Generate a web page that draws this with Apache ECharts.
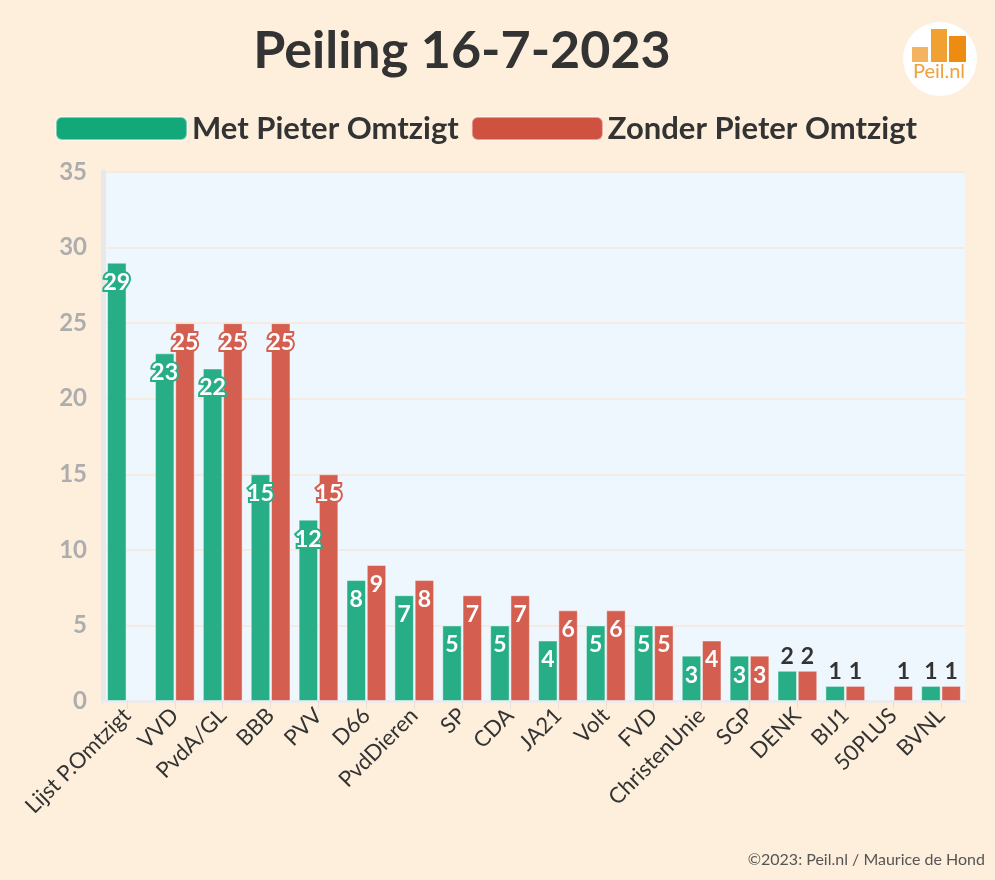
<!DOCTYPE html>
<html>
<head>
<meta charset="utf-8">
<script src="https://cdn.jsdelivr.net/npm/echarts@6/dist/echarts.min.js"></script>
<style>
  html, body { margin: 0; padding: 0; background: #fdefdc; }
  #chart { width: 995px; height: 880px; }
</style>
</head>
<body>
<div id="chart"></div>
<script>
// partijen
var categories = ['Lijst P.Omtzigt', 'VVD', 'PvdA/GL', 'BBB', 'PVV', 'D66', 'PvdDieren', 'SP', 'CDA',
    'JA21', 'Volt', 'FVD', 'ChristenUnie', 'SGP', 'DENK', 'BIJ1', '50PLUS', 'BVNL'];
// zetels met / zonder Omtzigt
var metOmtzigt = [29, 23, 22, 15, 12, 8, 7, 5, 5, 4, 5, 5, 3, 3, 2, 1, null, 1];
var zonderOmtzigt = [null, 25, 25, 25, 15, 9, 8, 7, 7, 6, 6, 5, 4, 3, 2, 1, 1, 1];
var yTicks = [0, 5, 10, 15, 20, 25, 30, 35];

var FONT = 'Lato';
var GREEN = '#27ae86', RED = '#d45f50';

// small values get their label above the bar, in dark text
function buildData(values) {
    return values.map(function (v) {
        if (v === null) return null;
        if (v <= 2) {
            return { value: v, label: { position: 'top', distance: 3, color: '#333', textBorderWidth: 0 } };
        }
        return { value: v };
    });
}

function barSeries(name, values, color) {
    return {
        name: name,
        type: 'bar',
        barGap: '4%',
        barCategoryGap: '17%',
        data: buildData(values),
        itemStyle: { color: color, borderColor: 'rgba(255,255,255,0.45)', borderWidth: 1 },
        label: {
            show: true,
            position: 'insideTop',
            distance: 8,
            fontFamily: FONT,
            fontWeight: 'bold',
            fontSize: 23,
            color: '#fff',
            textBorderColor: color,
            textBorderWidth: 4
        }
    };
}

var chart = echarts.init(document.getElementById('chart'));

var option = {
    backgroundColor: '#fdefdc',
    textStyle: { fontFamily: FONT },
    title: {
        text: 'Peiling 16-7-2023',
        left: 457,
        top: 20,
        textAlign: 'center',
        textStyle: { fontFamily: FONT, fontSize: 52, fontWeight: 'bold', color: '#333' }
    },
    legend: {
        left: 50,
        top: 108,
        itemWidth: 131,
        itemHeight: 23,
        itemGap: 12,
        icon: 'roundRect',
        textStyle: { fontFamily: FONT, fontSize: 31, fontWeight: 'bold', color: '#333' },
        data: [
            { name: 'Met Pieter Omtzigt', itemStyle: { color: '#13a87a' } },
            { name: 'Zonder Pieter Omtzigt', itemStyle: { color: '#cf5240' } }
        ]
    },
    grid: {
        left: 103,
        right: 30,
        top: 172,
        bottom: 179,
        show: true,
        backgroundColor: '#eef6fe',
        borderWidth: 0
    },
    xAxis: {
        type: 'category',
        data: categories,
        axisLine: { show: true, lineStyle: { color: '#ececec', width: 3 } },
        axisTick: { show: true, alignWithLabel: true, length: 8, lineStyle: { color: '#e6e0da' } },
        axisLabel: {
            rotate: 45,
            interval: 0,
            margin: 11,
            fontFamily: FONT,
            fontSize: 22,
            color: '#333'
        }
    },
    yAxis: {
        type: 'value',
        min: yTicks[0],
        max: yTicks[yTicks.length - 1],
        interval: 5,
        axisLine: { show: true, lineStyle: { color: '#e8e8e8', width: 5 } },
        axisTick: { show: false },
        splitLine: { lineStyle: { color: '#f5ebe1', width: 2 } },
        axisLabel: {
            margin: 16,
            fontFamily: FONT,
            fontSize: 24,
            fontWeight: 'bold',
            color: '#adadad'
        }
    },
    series: [
        barSeries('Met Pieter Omtzigt', metOmtzigt, GREEN),
        barSeries('Zonder Pieter Omtzigt', zonderOmtzigt, RED)
    ],
    graphic: [
        // Peil.nl logo
        { type: 'circle', shape: { cx: 940, cy: 59, r: 37 }, style: { fill: '#ffffff' } },
        { type: 'rect', shape: { x: 912, y: 47, width: 16, height: 15 }, style: { fill: '#f4b35e' } },
        { type: 'rect', shape: { x: 931, y: 29, width: 16, height: 33 }, style: { fill: '#f1a032' } },
        { type: 'rect', shape: { x: 949, y: 36, width: 17, height: 26 }, style: { fill: '#ee8c12' } },
        {
            type: 'text', x: 939, y: 72,
            style: { text: 'Peil.nl', fill: '#f0a03c', font: '20px ' + FONT, align: 'center', verticalAlign: 'middle' }
        },
        {
            type: 'text', right: 10, top: 852,
            style: { text: '©2023: Peil.nl / Maurice de Hond', fill: '#555', font: '16px ' + FONT }
        }
    ]
};

chart.setOption(option);
</script>
</body>
</html>
